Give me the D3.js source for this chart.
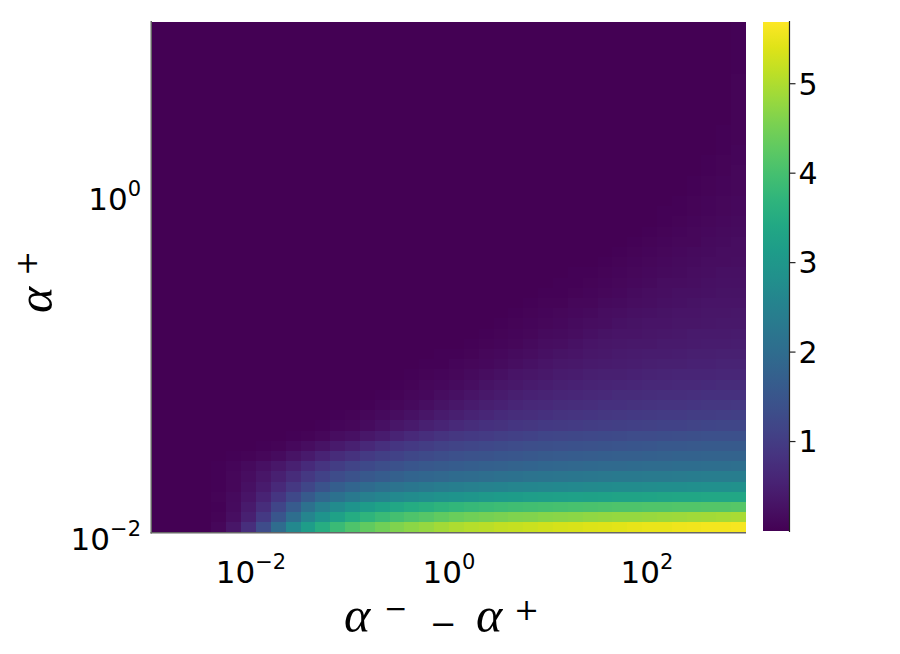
<!DOCTYPE html>
<html>
<head>
<meta charset="utf-8">
<script src="https://cdnjs.cloudflare.com/ajax/libs/d3/7.8.5/d3.min.js"></script>
<style>
  body { margin: 0; background: #fff; }
  svg { display: block; }
</style>
</head>
<body>
<div id="chart"></div>
<script>
(function() {

// cell edges of the heatmap, as powers of ten
var xEdgeExp = [-3,-2.85,-2.7,-2.55,-2.4,-2.25,-2.1,-1.95,-1.8,-1.65,-1.5,-1.35,-1.2,-1.05,-0.9,-0.75,-0.6,-0.45,-0.3,-0.15,
                0,0.15,0.3,0.45,0.6,0.75,0.9,1.05,1.2,1.35,1.5,1.65,1.8,1.95,2.1,2.25,2.4,2.55,2.7,2.85,3];
var yEdgeExp = [-2,-1.94,-1.88,-1.82,-1.76,-1.7,-1.64,-1.58,-1.52,-1.46,-1.4,-1.34,-1.28,-1.22,-1.16,-1.1,-1.04,-0.98,-0.92,-0.86,
                -0.8,-0.74,-0.68,-0.62,-0.56,-0.5,-0.44,-0.38,-0.32,-0.26,-0.2,-0.14,-0.08,-0.02,0.04,0.1,0.16,0.22,0.28,0.34,
                0.4,0.46,0.52,0.58,0.64,0.7,0.76,0.82,0.88,0.94,1];

// tick labels
var xTickExp = [-2, 0, 2];
var yTickExp = [-2, 0];
var cbTicks = [1, 2, 3, 4, 5];
var cbRange = [0, 5.69];

// cell values, row 0 = lowest alpha+ (bottom), 40 columns left to right
var zRows = [
 [0.02,0.02,0.02,0.02,0.1,0.33,0.75,1.3,2.0,2.65, 3.15,3.55,3.85,4.1,4.3,4.45,4.58,4.7,4.8,4.9, 4.98,5.05,5.11,5.16,5.2,5.24,5.28,5.32,5.35,5.38, 5.41,5.44,5.47,5.49,5.51,5.54,5.56,5.58,5.6,5.62],
 [0.02,0.02,0.02,0.02,0.06,0.22,0.5,0.94,1.49,2.03, 2.6,2.95,3.25,3.5,3.7,3.85,3.98,4.1,4.2,4.3, 4.38,4.45,4.5,4.55,4.59,4.62,4.65,4.68,4.71,4.74, 4.76,4.78,4.8,4.82,4.84,4.86,4.88,4.9,4.92,4.94],
 [0.02,0.02,0.02,0.02,0.04,0.17,0.38,0.72,1.16,1.62, 2.1,2.45,2.72,2.95,3.13,3.28,3.4,3.5,3.6,3.68, 3.75,3.81,3.86,3.9,3.94,3.97,4.0,4.02,4.04,4.06, 4.08,4.1,4.11,4.12,4.13,4.14,4.15,4.16,4.17,4.18],
 [0.02,0.02,0.02,0.02,0.05,0.14,0.3,0.55,0.88,1.23, 1.6,1.9,2.12,2.3,2.45,2.57,2.67,2.75,2.82,2.89, 2.95,3.0,3.05,3.09,3.13,3.16,3.19,3.21,3.23,3.25, 3.27,3.29,3.31,3.33,3.35,3.36,3.37,3.38,3.39,3.4],
 [0.02,0.02,0.02,0.02,0.04,0.11,0.24,0.42,0.66,0.92, 1.19,1.45,1.68,1.83,1.96,2.07,2.16,2.23,2.3,2.36, 2.41,2.46,2.5,2.54,2.58,2.61,2.64,2.66,2.68,2.7, 2.72,2.74,2.75,2.77,2.78,2.8,2.81,2.83,2.84,2.85],
 [0.02,0.02,0.02,0.02,0.04,0.09,0.19,0.33,0.5,0.71, 0.93,1.13,1.31,1.44,1.54,1.64,1.73,1.81,1.86,1.91, 1.96,2.0,2.04,2.08,2.12,2.16,2.19,2.21,2.24,2.26, 2.28,2.29,2.31,2.32,2.33,2.35,2.36,2.38,2.39,2.4],
 [0.02,0.02,0.02,0.02,0.03,0.07,0.14,0.23,0.35,0.51, 0.68,0.86,1.02,1.15,1.25,1.34,1.42,1.49,1.55,1.6, 1.64,1.68,1.72,1.75,1.78,1.82,1.85,1.88,1.9,1.92, 1.94,1.95,1.97,1.99,2.0,2.01,2.02,2.03,2.04,2.05],
 [0.02,0.02,0.02,0.02,0.02,0.03,0.05,0.1,0.17,0.27, 0.39,0.54,0.69,0.82,0.96,1.05,1.13,1.21,1.27,1.33, 1.38,1.43,1.46,1.49,1.52,1.55,1.58,1.61,1.63,1.66, 1.68,1.7,1.71,1.73,1.74,1.76,1.77,1.78,1.79,1.8],
 [0.02,0.02,0.02,0.02,0.02,0.02,0.02,0.03,0.06,0.12, 0.19,0.28,0.39,0.51,0.64,0.76,0.87,0.95,1.02,1.09, 1.14,1.19,1.24,1.28,1.31,1.34,1.37,1.39,1.42,1.44, 1.46,1.48,1.51,1.53,1.54,1.55,1.57,1.58,1.59,1.6],
 [0.02,0.02,0.02,0.02,0.02,0.02,0.02,0.02,0.02,0.03, 0.06,0.11,0.18,0.24,0.34,0.44,0.54,0.65,0.75,0.83, 0.9,0.94,1.0,1.04,1.08,1.12,1.16,1.18,1.21,1.23, 1.25,1.27,1.29,1.31,1.33,1.35,1.37,1.38,1.39,1.4],
 [0.02,0.02,0.02,0.02,0.02,0.02,0.02,0.02,0.02,0.02, 0.02,0.04,0.07,0.11,0.17,0.24,0.32,0.4,0.49,0.57, 0.66,0.73,0.78,0.82,0.87,0.91,0.94,0.97,1.0,1.02, 1.04,1.06,1.08,1.1,1.12,1.13,1.15,1.17,1.18,1.2],
 [0.02,0.02,0.02,0.02,0.02,0.02,0.02,0.02,0.02,0.02, 0.02,0.02,0.04,0.06,0.1,0.14,0.19,0.26,0.33,0.41, 0.48,0.55,0.62,0.67,0.72,0.75,0.79,0.83,0.85,0.88, 0.91,0.93,0.94,0.96,0.98,0.99,1.01,1.02,1.04,1.05],
 [0.02,0.02,0.02,0.02,0.02,0.02,0.02,0.02,0.02,0.02, 0.02,0.02,0.02,0.02,0.04,0.07,0.11,0.15,0.21,0.27, 0.34,0.41,0.47,0.53,0.59,0.63,0.66,0.7,0.73,0.75, 0.78,0.8,0.82,0.84,0.85,0.86,0.88,0.9,0.91,0.92],
 [0.02,0.02,0.02,0.02,0.02,0.02,0.02,0.02,0.02,0.02, 0.02,0.02,0.02,0.02,0.02,0.04,0.06,0.1,0.13,0.18, 0.24,0.3,0.36,0.41,0.47,0.52,0.55,0.58,0.61,0.64, 0.66,0.69,0.71,0.72,0.74,0.75,0.76,0.78,0.79,0.8],
 [0.02,0.02,0.02,0.02,0.02,0.02,0.02,0.02,0.02,0.02, 0.02,0.02,0.02,0.02,0.02,0.02,0.03,0.05,0.09,0.12, 0.16,0.21,0.27,0.32,0.37,0.42,0.46,0.49,0.52,0.54, 0.57,0.59,0.61,0.63,0.64,0.65,0.66,0.68,0.69,0.7],
 [0.02,0.02,0.02,0.02,0.02,0.02,0.02,0.02,0.02,0.02, 0.02,0.02,0.02,0.02,0.02,0.02,0.02,0.03,0.05,0.08, 0.11,0.15,0.19,0.24,0.29,0.33,0.37,0.41,0.44,0.47, 0.49,0.51,0.53,0.55,0.57,0.58,0.59,0.6,0.61,0.62],
 [0.02,0.02,0.02,0.02,0.02,0.02,0.02,0.02,0.02,0.02, 0.02,0.02,0.02,0.02,0.02,0.02,0.02,0.02,0.03,0.04, 0.07,0.1,0.13,0.17,0.22,0.26,0.3,0.34,0.37,0.4, 0.42,0.44,0.46,0.48,0.5,0.51,0.52,0.53,0.54,0.55],
 [0.02,0.02,0.02,0.02,0.02,0.02,0.02,0.02,0.02,0.02, 0.02,0.02,0.02,0.02,0.02,0.02,0.02,0.02,0.02,0.03, 0.04,0.06,0.09,0.12,0.16,0.2,0.24,0.28,0.31,0.34, 0.37,0.39,0.41,0.43,0.44,0.46,0.47,0.48,0.49,0.5],
 [0.02,0.02,0.02,0.02,0.02,0.02,0.02,0.02,0.02,0.02, 0.02,0.02,0.02,0.02,0.02,0.02,0.02,0.02,0.02,0.02, 0.02,0.04,0.06,0.08,0.11,0.15,0.18,0.22,0.25,0.29, 0.32,0.34,0.36,0.37,0.39,0.4,0.42,0.43,0.44,0.45],
 [0.02,0.02,0.02,0.02,0.02,0.02,0.02,0.02,0.02,0.02, 0.02,0.02,0.02,0.02,0.02,0.02,0.02,0.02,0.02,0.02, 0.02,0.02,0.04,0.05,0.08,0.1,0.14,0.17,0.2,0.23, 0.27,0.29,0.31,0.33,0.35,0.36,0.38,0.39,0.4,0.41],
 [0.02,0.02,0.02,0.02,0.02,0.02,0.02,0.02,0.02,0.02, 0.02,0.02,0.02,0.02,0.02,0.02,0.02,0.02,0.02,0.02, 0.02,0.02,0.02,0.03,0.05,0.07,0.1,0.13,0.16,0.19, 0.22,0.25,0.27,0.29,0.3,0.32,0.33,0.35,0.36,0.37],
 [0.02,0.02,0.02,0.02,0.02,0.02,0.02,0.02,0.02,0.02, 0.02,0.02,0.02,0.02,0.02,0.02,0.02,0.02,0.02,0.02, 0.02,0.02,0.02,0.02,0.03,0.05,0.07,0.09,0.12,0.15, 0.18,0.21,0.23,0.26,0.27,0.29,0.3,0.32,0.33,0.34],
 [0.02,0.02,0.02,0.02,0.02,0.02,0.02,0.02,0.02,0.02, 0.02,0.02,0.02,0.02,0.02,0.02,0.02,0.02,0.02,0.02, 0.02,0.02,0.02,0.02,0.02,0.03,0.05,0.06,0.09,0.11, 0.14,0.17,0.19,0.22,0.24,0.26,0.27,0.29,0.3,0.31],
 [0.02,0.02,0.02,0.02,0.02,0.02,0.02,0.02,0.02,0.02, 0.02,0.02,0.02,0.02,0.02,0.02,0.02,0.02,0.02,0.02, 0.02,0.02,0.02,0.02,0.02,0.02,0.03,0.04,0.06,0.08, 0.1,0.13,0.16,0.18,0.21,0.23,0.24,0.26,0.27,0.28],
 [0.02,0.02,0.02,0.02,0.02,0.02,0.02,0.02,0.02,0.02, 0.02,0.02,0.02,0.02,0.02,0.02,0.02,0.02,0.02,0.02, 0.02,0.02,0.02,0.02,0.02,0.02,0.02,0.03,0.04,0.06, 0.08,0.1,0.13,0.15,0.18,0.2,0.22,0.23,0.25,0.26],
 [0.02,0.02,0.02,0.02,0.02,0.02,0.02,0.02,0.02,0.02, 0.02,0.02,0.02,0.02,0.02,0.02,0.02,0.02,0.02,0.02, 0.02,0.02,0.02,0.02,0.02,0.02,0.02,0.02,0.03,0.04, 0.06,0.08,0.1,0.12,0.15,0.17,0.19,0.21,0.23,0.24],
 [0.02,0.02,0.02,0.02,0.02,0.02,0.02,0.02,0.02,0.02, 0.02,0.02,0.02,0.02,0.02,0.02,0.02,0.02,0.02,0.02, 0.02,0.02,0.02,0.02,0.02,0.02,0.02,0.02,0.02,0.02, 0.04,0.05,0.07,0.1,0.12,0.14,0.16,0.19,0.2,0.22],
 [0.02,0.02,0.02,0.02,0.02,0.02,0.02,0.02,0.02,0.02, 0.02,0.02,0.02,0.02,0.02,0.02,0.02,0.02,0.02,0.02, 0.02,0.02,0.02,0.02,0.02,0.02,0.02,0.02,0.02,0.02, 0.02,0.04,0.05,0.07,0.09,0.12,0.14,0.16,0.18,0.2],
 [0.02,0.02,0.02,0.02,0.02,0.02,0.02,0.02,0.02,0.02, 0.02,0.02,0.02,0.02,0.02,0.02,0.02,0.02,0.02,0.02, 0.02,0.02,0.02,0.02,0.02,0.02,0.02,0.02,0.02,0.02, 0.02,0.02,0.04,0.05,0.07,0.09,0.11,0.14,0.16,0.18],
 [0.02,0.02,0.02,0.02,0.02,0.02,0.02,0.02,0.02,0.02, 0.02,0.02,0.02,0.02,0.02,0.02,0.02,0.02,0.02,0.02, 0.02,0.02,0.02,0.02,0.02,0.02,0.02,0.02,0.02,0.02, 0.02,0.02,0.02,0.04,0.05,0.07,0.09,0.12,0.14,0.16],
 [0.02,0.02,0.02,0.02,0.02,0.02,0.02,0.02,0.02,0.02, 0.02,0.02,0.02,0.02,0.02,0.02,0.02,0.02,0.02,0.02, 0.02,0.02,0.02,0.02,0.02,0.02,0.02,0.02,0.02,0.02, 0.02,0.02,0.02,0.02,0.04,0.05,0.07,0.09,0.12,0.14],
 [0.02,0.02,0.02,0.02,0.02,0.02,0.02,0.02,0.02,0.02, 0.02,0.02,0.02,0.02,0.02,0.02,0.02,0.02,0.02,0.02, 0.02,0.02,0.02,0.02,0.02,0.02,0.02,0.02,0.02,0.02, 0.02,0.02,0.02,0.02,0.03,0.04,0.06,0.08,0.1,0.13],
 [0.02,0.02,0.02,0.02,0.02,0.02,0.02,0.02,0.02,0.02, 0.02,0.02,0.02,0.02,0.02,0.02,0.02,0.02,0.02,0.02, 0.02,0.02,0.02,0.02,0.02,0.02,0.02,0.02,0.02,0.02, 0.02,0.02,0.02,0.02,0.02,0.03,0.05,0.07,0.09,0.12],
 [0.02,0.02,0.02,0.02,0.02,0.02,0.02,0.02,0.02,0.02, 0.02,0.02,0.02,0.02,0.02,0.02,0.02,0.02,0.02,0.02, 0.02,0.02,0.02,0.02,0.02,0.02,0.02,0.02,0.02,0.02, 0.02,0.02,0.02,0.02,0.02,0.02,0.04,0.06,0.08,0.11],
 [0.02,0.02,0.02,0.02,0.02,0.02,0.02,0.02,0.02,0.02, 0.02,0.02,0.02,0.02,0.02,0.02,0.02,0.02,0.02,0.02, 0.02,0.02,0.02,0.02,0.02,0.02,0.02,0.02,0.02,0.02, 0.02,0.02,0.02,0.02,0.02,0.02,0.03,0.05,0.07,0.1],
 [0.02,0.02,0.02,0.02,0.02,0.02,0.02,0.02,0.02,0.02, 0.02,0.02,0.02,0.02,0.02,0.02,0.02,0.02,0.02,0.02, 0.02,0.02,0.02,0.02,0.02,0.02,0.02,0.02,0.02,0.02, 0.02,0.02,0.02,0.02,0.02,0.02,0.02,0.04,0.06,0.09],
 [0.02,0.02,0.02,0.02,0.02,0.02,0.02,0.02,0.02,0.02, 0.02,0.02,0.02,0.02,0.02,0.02,0.02,0.02,0.02,0.02, 0.02,0.02,0.02,0.02,0.02,0.02,0.02,0.02,0.02,0.02, 0.02,0.02,0.02,0.02,0.02,0.02,0.02,0.03,0.05,0.08],
 [0.02,0.02,0.02,0.02,0.02,0.02,0.02,0.02,0.02,0.02, 0.02,0.02,0.02,0.02,0.02,0.02,0.02,0.02,0.02,0.02, 0.02,0.02,0.02,0.02,0.02,0.02,0.02,0.02,0.02,0.02, 0.02,0.02,0.02,0.02,0.02,0.02,0.02,0.02,0.04,0.07],
 [0.02,0.02,0.02,0.02,0.02,0.02,0.02,0.02,0.02,0.02, 0.02,0.02,0.02,0.02,0.02,0.02,0.02,0.02,0.02,0.02, 0.02,0.02,0.02,0.02,0.02,0.02,0.02,0.02,0.02,0.02, 0.02,0.02,0.02,0.02,0.02,0.02,0.02,0.02,0.04,0.06],
 [0.02,0.02,0.02,0.02,0.02,0.02,0.02,0.02,0.02,0.02, 0.02,0.02,0.02,0.02,0.02,0.02,0.02,0.02,0.02,0.02, 0.02,0.02,0.02,0.02,0.02,0.02,0.02,0.02,0.02,0.02, 0.02,0.02,0.02,0.02,0.02,0.02,0.02,0.02,0.03,0.06],
 [0.02,0.02,0.02,0.02,0.02,0.02,0.02,0.02,0.02,0.02, 0.02,0.02,0.02,0.02,0.02,0.02,0.02,0.02,0.02,0.02, 0.02,0.02,0.02,0.02,0.02,0.02,0.02,0.02,0.02,0.02, 0.02,0.02,0.02,0.02,0.02,0.02,0.02,0.02,0.02,0.05],
 [0.02,0.02,0.02,0.02,0.02,0.02,0.02,0.02,0.02,0.02, 0.02,0.02,0.02,0.02,0.02,0.02,0.02,0.02,0.02,0.02, 0.02,0.02,0.02,0.02,0.02,0.02,0.02,0.02,0.02,0.02, 0.02,0.02,0.02,0.02,0.02,0.02,0.02,0.02,0.02,0.05],
 [0.02,0.02,0.02,0.02,0.02,0.02,0.02,0.02,0.02,0.02, 0.02,0.02,0.02,0.02,0.02,0.02,0.02,0.02,0.02,0.02, 0.02,0.02,0.02,0.02,0.02,0.02,0.02,0.02,0.02,0.02, 0.02,0.02,0.02,0.02,0.02,0.02,0.02,0.02,0.02,0.05],
 [0.02,0.02,0.02,0.02,0.02,0.02,0.02,0.02,0.02,0.02, 0.02,0.02,0.02,0.02,0.02,0.02,0.02,0.02,0.02,0.02, 0.02,0.02,0.02,0.02,0.02,0.02,0.02,0.02,0.02,0.02, 0.02,0.02,0.02,0.02,0.02,0.02,0.02,0.02,0.02,0.05],
 [0.02,0.02,0.02,0.02,0.02,0.02,0.02,0.02,0.02,0.02, 0.02,0.02,0.02,0.02,0.02,0.02,0.02,0.02,0.02,0.02, 0.02,0.02,0.02,0.02,0.02,0.02,0.02,0.02,0.02,0.02, 0.02,0.02,0.02,0.02,0.02,0.02,0.02,0.02,0.02,0.05],
 [0.02,0.02,0.02,0.02,0.02,0.02,0.02,0.02,0.02,0.02, 0.02,0.02,0.02,0.02,0.02,0.02,0.02,0.02,0.02,0.02, 0.02,0.02,0.02,0.02,0.02,0.02,0.02,0.02,0.02,0.02, 0.02,0.02,0.02,0.02,0.02,0.02,0.02,0.02,0.02,0.04],
 [0.02,0.02,0.02,0.02,0.02,0.02,0.02,0.02,0.02,0.02, 0.02,0.02,0.02,0.02,0.02,0.02,0.02,0.02,0.02,0.02, 0.02,0.02,0.02,0.02,0.02,0.02,0.02,0.02,0.02,0.02, 0.02,0.02,0.02,0.02,0.02,0.02,0.02,0.02,0.02,0.04],
 [0.02,0.02,0.02,0.02,0.02,0.02,0.02,0.02,0.02,0.02, 0.02,0.02,0.02,0.02,0.02,0.02,0.02,0.02,0.02,0.02, 0.02,0.02,0.02,0.02,0.02,0.02,0.02,0.02,0.02,0.02, 0.02,0.02,0.02,0.02,0.02,0.02,0.02,0.02,0.02,0.04],
 [0.02,0.02,0.02,0.02,0.02,0.02,0.02,0.02,0.02,0.02, 0.02,0.02,0.02,0.02,0.02,0.02,0.02,0.02,0.02,0.02, 0.02,0.02,0.02,0.02,0.02,0.02,0.02,0.02,0.02,0.02, 0.02,0.02,0.02,0.02,0.02,0.02,0.02,0.02,0.02,0.04],
 [0.02,0.02,0.02,0.02,0.02,0.02,0.02,0.02,0.02,0.02, 0.02,0.02,0.02,0.02,0.02,0.02,0.02,0.02,0.02,0.02, 0.02,0.02,0.02,0.02,0.02,0.02,0.02,0.02,0.02,0.02, 0.02,0.02,0.02,0.02,0.02,0.02,0.02,0.02,0.02,0.04]
];

var W = 900, H = 654;
var plot = {left: 152, right: 746, top: 22, bottom: 532};
var bar = {left: 763, width: 26, top: 22, bottom: 531};

var svg = d3.select('#chart').append('svg')
    .attr('width', W)
    .attr('height', H);

// log scales for both axes, linear one for the colour bar
var x = d3.scaleLog().domain([1e-3, 1e3]).range([plot.left, plot.right]);
var y = d3.scaleLog().domain([1e-2, 1e1]).range([plot.bottom, plot.top]);
var color = d3.scaleSequential(d3.interpolateViridis).domain(cbRange);
var cbY = d3.scaleLinear().domain(cbRange).range([bar.bottom, bar.top]);

svg.append('clipPath').attr('id', 'clip')
  .append('rect')
    .attr('x', plot.left).attr('y', plot.top)
    .attr('width', plot.right - plot.left)
    .attr('height', plot.bottom - plot.top);

// flatten rows into cells
var cells = [];
zRows.forEach(function(row, j) {
  row.forEach(function(v, i) {
    cells.push({i: i, j: j, v: v});
  });
});

svg.append('g')
    .attr('clip-path', 'url(#clip)')
  .selectAll('rect')
  .data(cells)
  .enter().append('rect')
    .attr('x', function(d) { return x(Math.pow(10, xEdgeExp[d.i])); })
    .attr('y', function(d) { return y(Math.pow(10, yEdgeExp[d.j + 1])); })
    .attr('width', function(d) { return x(Math.pow(10, xEdgeExp[d.i + 1])) - x(Math.pow(10, xEdgeExp[d.i])) + 0.6; })
    .attr('height', function(d) { return y(Math.pow(10, yEdgeExp[d.j])) - y(Math.pow(10, yEdgeExp[d.j + 1])) + 0.6; })
    .attr('fill', function(d) { return color(d.v); })
    .attr('shape-rendering', 'crispEdges');

// axis spines
svg.append('line')
    .attr('x1', plot.left - 0.75).attr('x2', plot.left - 0.75)
    .attr('y1', plot.top - 1).attr('y2', plot.bottom + 1.5)
    .attr('stroke', '#666').attr('stroke-width', 1.5);
svg.append('line')
    .attr('x1', plot.left - 1.5).attr('x2', plot.right)
    .attr('y1', plot.bottom + 0.75).attr('y2', plot.bottom + 0.75)
    .attr('stroke', '#666').attr('stroke-width', 1.5);

var tickFont = 'DejaVu Sans, sans-serif';

function powLabel(sel, e) {
  sel.append('tspan').text('10');
  sel.append('tspan')
      .attr('font-size', 21)
      .attr('dy', -14)
      .text(e < 0 ? '\u2212' + (-e) : String(e));
}

// x tick labels
svg.append('g').selectAll('text')
  .data(xTickExp)
  .enter().append('text')
    .attr('x', function(d) { return x(Math.pow(10, d)); })
    .attr('y', 583)
    .attr('text-anchor', 'middle')
    .attr('font-family', tickFont)
    .attr('font-size', 31)
    .attr('fill', '#000')
    .each(function(d) { powLabel(d3.select(this), d); });

// y tick labels
svg.append('g').selectAll('text')
  .data(yTickExp)
  .enter().append('text')
    .attr('x', 141)
    .attr('y', function(d) { return y(Math.pow(10, d)) + 18; })
    .attr('text-anchor', 'end')
    .attr('font-family', tickFont)
    .attr('font-size', 31)
    .attr('fill', '#000')
    .each(function(d) { powLabel(d3.select(this), d); });

// x axis title  (alpha^- minus alpha^+)
var serif = 'Liberation Serif, DejaVu Serif, serif';
var symFont = 'DejaVu Serif, serif';
var xt = svg.append('text')
    .attr('font-family', serif)
    .attr('font-size', 50)
    .attr('fill', '#000');
xt.append('tspan').attr('x', 344).attr('y', 632).attr('font-style', 'italic').text('\u03b1');
xt.append('tspan').attr('x', 384).attr('y', 618).attr('font-family', symFont).attr('font-size', 28).text('\u2212');
xt.append('tspan').attr('x', 430).attr('y', 635).attr('font-family', symFont).attr('font-size', 32).text('\u2212');
xt.append('tspan').attr('x', 476).attr('y', 632).attr('font-style', 'italic').text('\u03b1');
xt.append('tspan').attr('x', 514).attr('y', 620).attr('font-family', symFont).attr('font-size', 30).text('+');

// y axis title
var yt = svg.append('text')
    .attr('transform', 'translate(52,285) rotate(-90)')
    .attr('font-family', serif)
    .attr('font-size', 50)
    .attr('fill', '#000');
yt.append('tspan').attr('x', -28).attr('y', 0).attr('font-style', 'italic').text('\u03b1');
yt.append('tspan').attr('x', 9).attr('y', -15).attr('font-family', symFont).attr('font-size', 30).text('+');

// colour bar
var grad = svg.append('defs').append('linearGradient')
    .attr('id', 'cb')
    .attr('x1', 0).attr('y1', 1).attr('x2', 0).attr('y2', 0);
d3.range(0, 1.0001, 0.05).forEach(function(t) {
  grad.append('stop')
      .attr('offset', t)
      .attr('stop-color', d3.interpolateViridis(t));
});

svg.append('rect')
    .attr('x', bar.left)
    .attr('y', bar.top)
    .attr('width', bar.width)
    .attr('height', bar.bottom - bar.top)
    .attr('fill', 'url(#cb)');

var barRight = bar.left + bar.width + 0.5;
svg.append('line')
    .attr('x1', barRight).attr('x2', barRight)
    .attr('y1', bar.top - 1).attr('y2', bar.bottom + 1)
    .attr('stroke', '#222').attr('stroke-width', 1.2);

var cbg = svg.append('g').selectAll('g')
  .data(cbTicks)
  .enter().append('g')
    .attr('transform', function(d) { return 'translate(' + barRight + ',' + cbY(d) + ')'; });
cbg.append('line')
    .attr('x1', 0).attr('x2', 6)
    .attr('stroke', '#222').attr('stroke-width', 1.2);
cbg.append('text')
    .attr('x', 9)
    .attr('dy', '0.36em')
    .attr('font-family', tickFont)
    .attr('font-size', 30)
    .attr('fill', '#000')
    .text(function(d) { return d; });

})();
</script>
</body>
</html>
